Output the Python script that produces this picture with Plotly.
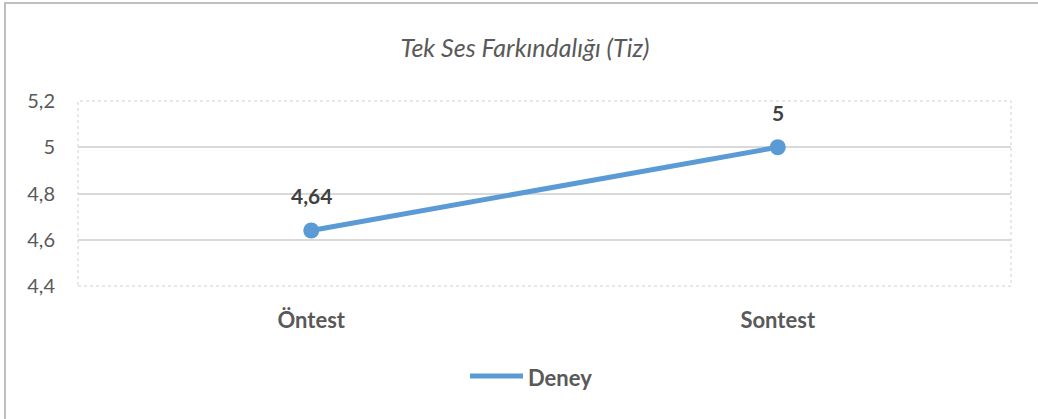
import plotly.graph_objects as go

categories = ["Öntest", "Sontest"]
deney = [4.64, 5.0]
series_name = "Deney"
title_text = "Tek Ses Farkındalığı (Tiz)"
y_ticks = [4.4, 4.6, 4.8, 5.0, 5.2]

L, R, T, B = 78, 27, 101, 133
W, H = 1038, 419
pw, ph = W - L - R, H - T - B
FONT = "Lato, Liberation Sans, sans-serif"
BLUE = "#5B9BD5"

def px_x(px):
    return (px - L) / pw

def px_y(py):
    return (H - B - py) / ph

fig = go.Figure()
fig.add_trace(go.Scatter(
    x=categories, y=deney, mode="lines+markers", name=series_name,
    line=dict(color=BLUE, width=5),
    marker=dict(color=BLUE, size=16),
    showlegend=False, hoverinfo="skip",
))

def fmt(v):
    return ("%g" % v).replace(".", ",")

for c, v in zip(categories, deney):
    fig.add_annotation(x=c, y=v, text="<b>%s</b>" % fmt(v), showarrow=False,
                       yshift=35, font=dict(family=FONT, size=21, color="#404040"))

# plot-area dotted border
fig.add_shape(type="rect", xref="paper", yref="paper", x0=0, x1=1, y0=0, y1=1,
              line=dict(color="#D0D0D0", width=1, dash="dot"), layer="below")
# outer chart border (only left and top visible in the frame)
fig.add_shape(type="rect", xref="paper", yref="paper",
              x0=px_x(5), x1=px_x(1045), y0=px_y(425), y1=px_y(3),
              line=dict(color="#BFBFBF", width=2))

# legend (line sample + label)
fig.add_shape(type="line", xref="paper", yref="paper",
              x0=px_x(470), x1=px_x(523), y0=px_y(376), y1=px_y(376),
              line=dict(color=BLUE, width=5))
fig.add_annotation(xref="paper", yref="paper", x=px_x(526), y=px_y(377),
                   xanchor="left", yanchor="middle", showarrow=False,
                   text="<b>%s</b>" % series_name,
                   font=dict(family=FONT, size=22, color="#595959"))

fig.update_layout(
    width=W, height=H,
    margin=dict(l=L, r=R, t=T, b=B),
    paper_bgcolor="white", plot_bgcolor="white",
    separators=",.",
    font=dict(family=FONT, color="#595959"),
    title=dict(text="<i>%s</i>" % title_text, x=px_x(525), xanchor="center",
               xref="paper", y=1 - 48 / H, yanchor="middle",
               font=dict(size=25, color="#595959")),
    showlegend=False,
    xaxis=dict(range=[-0.5, 1.5], showgrid=False, zeroline=False, showline=False,
               ticks="", tickfont=dict(size=22, color="#595959", weight="bold"),
               ticklabelstandoff=19),
    yaxis=dict(range=[4.4, 5.2], tickvals=y_ticks, showgrid=True, gridcolor="#D9D9D9",
               gridwidth=1.5, zeroline=False, showline=False, ticks="",
               tickfont=dict(size=20, color="#595959"), ticklabelstandoff=22),
)

fig.write_html("out.html", config={"displayModeBar": False},
               post_script="document.body.style.margin='0';document.body.style.overflow='hidden';")
